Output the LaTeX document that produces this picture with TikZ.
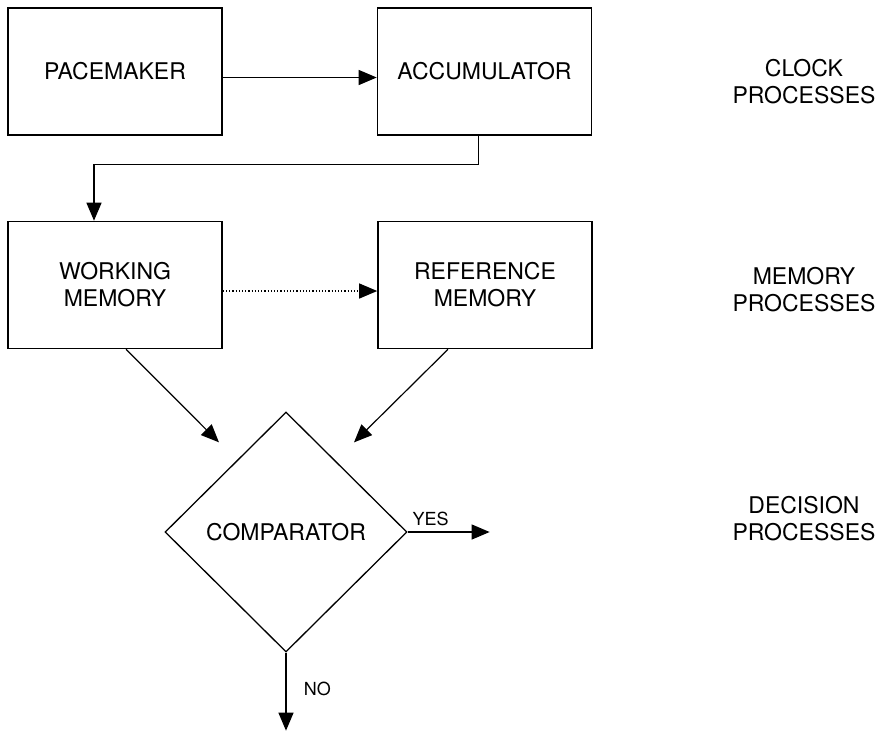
\documentclass[tikz,border=0pt]{standalone}
\usepackage{fontspec}
\setmainfont{TeX Gyre Heros}
\usetikzlibrary{shapes.geometric,arrows.meta}

\begin{document}
\begin{tikzpicture}[x=1pt, y=-1pt, line width=1.2pt,
    every node/.style = {font=\fontsize{23}{27}\selectfont, align=center,
                         text=black},
          unit/.style = {draw, line width=1.6pt, minimum width=214pt,
                         minimum height=127pt, inner sep=0pt},
          test/.style = {draw, diamond, aspect=1, line width=1.3pt,
                         minimum width=242pt, minimum height=240pt,
                         inner sep=0pt},
          flow/.style = {-{Triangle[length=18pt,width=15pt]}},
          ans/.style  = {font=\fontsize{18}{20}\selectfont}]%
  \useasboundingbox (0,0) rectangle (877,732);
  % clock processes
  \node [unit]  (pace)  at (115,71.5)   {PACEMAKER};
  \node [unit]  (acc)   at (484.5,71.5) {ACCUMULATOR};
  \node         (clock) at (804,82)     {CLOCK\\PROCESSES};
  % memory processes
  \node [unit]  (wm)    at (115,285)    {WORKING\\MEMORY};
  \node [unit]  (rm)    at (485,285)    {REFERENCE\\MEMORY};
  \node         (mem)   at (804,290)    {MEMORY\\PROCESSES};
  % decision processes
  \node [test]  (cmp)   at (286,532)    {COMPARATOR};
  \node         (dec)   at (804,519)    {DECISION\\PROCESSES};
  \coordinate   (wmin)  at ([shift={(-67pt,-31pt)}]cmp.north);
  \coordinate   (rmin)  at ([shift={(68pt,-31pt)}]cmp.north);
  % connectors
  \draw [flow]  ([yshift=-6pt]pace.east) -- ([yshift=-6pt]acc.west);
  \draw [flow]  ([xshift=-6pt]acc.south) -- ++(0,29) -| ([xshift=-21pt]wm.north);
  \draw [flow, dotted]
                ([yshift=-6pt]wm.east) -- ([yshift=-6pt]rm.west);
  \draw [flow]  ([xshift=11pt]wm.south) -- (wmin);
  \draw [flow]  ([xshift=-37pt]rm.south) -- (rmin);
  \draw [flow]  (cmp.east) -- ++(82,0)
                node [ans, pos=0.28, above=2pt] (yes) {YES};
  \draw [flow]  (cmp.south) -- ++(0,78)
                node [ans, pos=0.46, right=14pt] (no) {NO};
\end{tikzpicture}
\end{document}
